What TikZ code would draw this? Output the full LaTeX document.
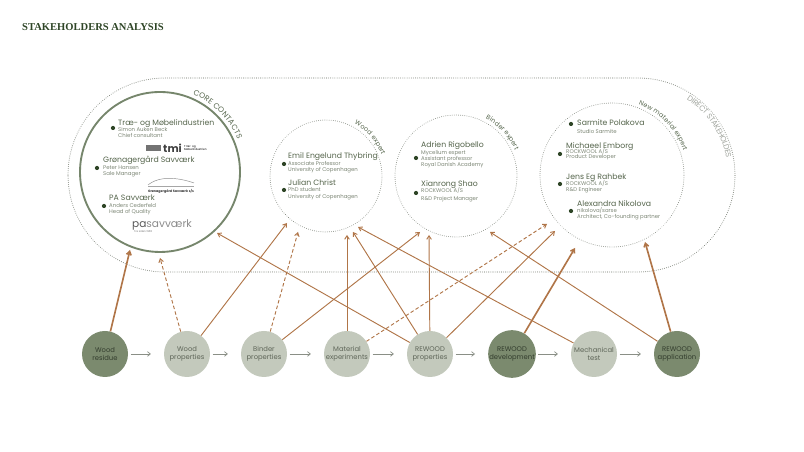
\documentclass[tikz,border=0pt]{standalone}
\usepackage{fontspec}
\setmainfont{Poppins}
\newfontfamily\titlefont{Liberation Serif}
\usetikzlibrary{arrows.meta,decorations.text}
\definecolor{brn}{HTML}{B07548}
\definecolor{dk}{HTML}{7B8A6E}
\definecolor{lt}{HTML}{C3C9BC}
\definecolor{ring}{HTML}{76866C}
\definecolor{bul}{HTML}{2E4526}
\definecolor{nmc}{HTML}{55654C}
\definecolor{sbc}{HTML}{7D8776}
\definecolor{dot}{HTML}{8A8F86}
\begin{document}
\begin{tikzpicture}[x=0.03cm,y=0.03cm,
 stage/.style={circle,minimum size=1.38cm,inner sep=0pt,align=center,font=\fontsize{5.8}{7}\selectfont},
 dstage/.style={stage,fill=dk,text=nmc!60!black},
 lstage/.style={stage,fill=lt,text=sbc!75!black},
 nm/.style={anchor=base west,inner sep=0pt,text=nmc,font=\fontsize{6.6}{7}\selectfont},
 sb/.style={anchor=base west,inner sep=0pt,text=sbc,font=\fontsize{4.6}{5}\selectfont},
 bl/.style={circle,fill=bul,inner sep=0pt,minimum size=3.6pt},
 dc/.style={dot,line width=0.9pt,dash pattern=on 0.01pt off 1.8pt,line cap=round},
 ar/.style={brn,line width=0.8pt,-{Straight Barb[length=3pt,width=4pt]}},
 tar/.style={ar,line width=1.4pt},
 dar/.style={ar,dash pattern=on 3pt off 2pt},
 gar/.style={dot,line width=0.6pt,-{Straight Barb[length=2.5pt,width=4pt]},shorten <=2pt,shorten >=11pt},
 lab/.style={decorate,decoration={text along path,text align=center,raise=2pt,text color=nmc}}]
\useasboundingbox (0,0) rectangle (804,452);
\node[anchor=base west,inner sep=0pt,font=\titlefont\bfseries\fontsize{9}{10}\selectfont,text=bul] (title) at (22,421) {STAKEHOLDERS ANALYSIS};
% outer stadium
\draw[dc,rounded corners=97*0.03cm] (68,180) rectangle (735,374);
\path[decorate,decoration={text along path,text align=center,raise=-6pt,text color=dot!80,
 text={|\fontsize{6.5}{7}\selectfont|DIRECT STAKEHOLDES}}] (638,277) ++(66:97) arc[start angle=66,end angle=2,radius=97];
% circles
\draw[ring,line width=1.6pt,fill=white] (160,280) circle[radius=80];
\draw[dc,line width=0.8pt,fill=white] (326,276) circle[radius=56];
\draw[dc,line width=0.8pt,fill=white] (456,276) circle[radius=61];
\draw[dc,line width=0.8pt,fill=white] (612,277) circle[radius=72];
\path[lab,decoration={text={|\fontsize{6.5}{7}\selectfont|CORE CONTACTS}}] (160,280) ++(72:82) arc[start angle=72,end angle=18,radius=82];
\path[lab,decoration={text={|\fontsize{5.5}{6}\selectfont|Wood expert}}] (326,276) ++(66:57) arc[start angle=66,end angle=16,radius=57];
\path[lab,decoration={text={|\fontsize{5.5}{6}\selectfont|Binder expert}}] (456,276) ++(68:62) arc[start angle=68,end angle=18,radius=62];
\path[lab,decoration={text={|\fontsize{5.5}{6}\selectfont|New material expert}}] (612,277) ++(76:73) arc[start angle=76,end angle=12,radius=73];
% core contacts
\node[nm] (p1) at (118,326) {Træ- og Møbelindustrien};
\node[bl] (b1) at (113,324) {};
\node[sb] (p1a) at (118,320) {Simon Auken Beck};
\node[sb] (p1b) at (118,314) {Chief consultant};
\node[anchor=west,inner sep=0pt,font=\bfseries\fontsize{9}{9}\selectfont,text=black!75] (tmi) at (163,304) {tmi};
\node[fill=black!55,minimum width=13pt,minimum height=5pt,inner sep=0pt,anchor=east] (tmib) at (161,304) {};
\node[anchor=west,inner sep=0pt,align=left,font=\fontsize{2.4}{2.6}\selectfont] (tmit) at (184,304) {Træ- og\\Møbelindustrien};
\node[nm] (p2) at (103,289) {Grønagergård Savværk};
\node[bl] (b2) at (97,284) {};
\node[sb] (p2a) at (103,282) {Peter Hansen};
\node[sb] (p2b) at (103,276) {Sale Manager};
\draw[black!45,line width=0.4pt] (148,267) .. controls (160,277) and (180,274) .. (194,269);
\draw[black!35,line width=0.3pt] (148,266) -- (194,266);
\node[anchor=base,inner sep=0pt,font=\bfseries\fontsize{2.8}{3}\selectfont,text=black!80] (gcap) at (171,259) {Grønagergård Savværk s/s};
\node[nm] (p3) at (109,251) {PA Savværk};
\node[bl] (b3) at (104,246) {};
\node[sb] (p3a) at (109,244) {Anders Cederfeld};
\node[sb] (p3b) at (109,238) {Head of Quality};
\node[anchor=base west,inner sep=0pt,font=\fontsize{9}{9}\selectfont,text=black!65] (pal) at (132,224) {pa\textcolor{black!45}{savværk}};
\node[anchor=base west,inner sep=0pt,font=\fontsize{2.2}{2.4}\selectfont,text=black!55] (palt) at (134,219) {Tre siden 1965};
% wood expert
\node[nm] (w1) at (288,293) {Emil Engelund Thybring};
\node[bl] (wb1) at (284,288) {};
\node[sb] (w1a) at (288,286) {Associate Professor};
\node[sb] (w1b) at (288,280) {University of Copenhagen};
\node[nm] (w2) at (288,266) {Julian Christ};
\node[bl] (wb2) at (284,262) {};
\node[sb] (w2a) at (288,260) {PhD student};
\node[sb] (w2b) at (288,253) {University of Copenhagen};
% binder expert
\node[nm] (d1) at (421,304) {Adrien Rigobello};
\node[sb] (d1a) at (421,297) {Mycelium expert};
\node[bl] (db1) at (416,294) {};
\node[sb] (d1b) at (421,291) {Assistant professor};
\node[sb] (d1c) at (421,285) {Royal Danish Academy};
\node[nm] (d2) at (421,265) {Xianrong Shao};
\node[sb] (d2a) at (421,259) {ROCKWOOL A/S};
\node[bl] (db2) at (416,259) {};
\node[sb] (d2b) at (421,251) {R\&D Project Manager};
% new material
\node[nm] (n1) at (577,326) {Sarmite Polakova};
\node[bl] (nb1) at (571,328) {};
\node[sb] (n1a) at (577,318) {Studio Sarmite};
\node[nm] (n2) at (566,303) {Michaeel Emborg};
\node[bl] (nb2) at (560,298) {};
\node[sb] (n2a) at (566,298) {ROCKWOOL A/S};
\node[sb] (n2b) at (566,293) {Product Developer};
\node[nm] (n3) at (566,272) {Jens Eg Rahbek};
\node[bl] (nb3) at (560,268) {};
\node[sb] (n3a) at (566,266) {ROCKWOOL A/S};
\node[sb] (n3b) at (566,260) {R\&D Engineer};
\node[nm] (n4) at (577,245) {Alexandra Nikolova};
\node[bl] (nb4) at (571,241) {};
\node[sb] (n4a) at (577,239) {nikolova/sarse};
\node[sb] (n4b) at (577,233) {Architect, Co-founding partner};
% stages
\node[dstage] (wr) at (105,98) {Wood\\residue};
\node[lstage] (wp) at (187,98) {Wood\\properties};
\node[lstage] (bp) at (264,98) {Binder\\properties};
\node[lstage] (me) at (347,98) {Material\\experiments};
\node[lstage] (rp) at (430,98) {REWOOD\\properties};
\node[dstage] (rd) at (512,98) {REWOOD\\development};
\node[lstage] (mt) at (594,98) {Mechanical\\test};
\node[dstage] (ra) at (677,98) {REWOOD\\application};
\foreach \a/\b in {wr/wp,wp/bp,bp/me,me/rp,rp/rd,rd/mt,mt/ra} \draw[gar] (\a) -- (\b);
% targets
\coordinate (a1) at (130,202); \coordinate (a2) at (160,194);
\coordinate (a3) at (287,229); \coordinate (a4) at (298,220);
\coordinate (a5) at (420,220); \coordinate (a6) at (347,217);
\coordinate (a7) at (547,228); \coordinate (a8) at (353,220);
\coordinate (a9) at (217,219); \coordinate (a10) at (429,217);
\coordinate (a11) at (555,221); \coordinate (a13) at (358,225);
\coordinate (a14) at (490,220); \coordinate (a15) at (575,204);
\coordinate (a16) at (645,210);
\draw[tar] (wr) -- (a1);
\draw[dar] (wp) -- (a2);
\draw[ar] (wp) -- (a3);
\draw[dar] (bp) -- (a4);
\draw[ar] (bp) -- (a5);
\draw[ar] (me) -- (a6);
\draw[dar] (me) -- (a7);
\draw[ar] (rp) -- (a8);
\draw[ar] (rp) -- (a9);
\draw[ar] (rp) -- (a10);
\draw[ar] (rp) -- (a11);
\draw[ar] (mt) -- (a13);
\draw[ar] (ra) -- (a14);
\draw[tar] (rd) -- (a15);
\draw[tar] (ra) -- (a16);
\end{tikzpicture}
\end{document}
